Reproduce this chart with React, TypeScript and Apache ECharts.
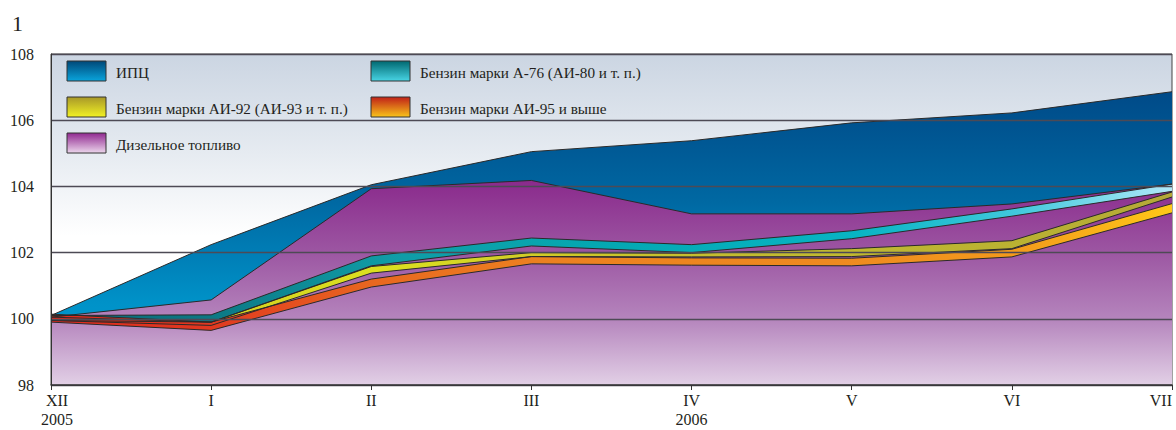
import React, { useEffect, useRef } from "react";
import * as echarts from "echarts";

const months = ["XII", "I", "II", "III", "IV", "V", "VI", "VII"];
const years = ["2005", "", "", "", "2006", "", "", ""];
const yMin = 98;
const yMax = 108;
const yStep = 2;

const cpi = [100.1, 102.24, 104.05, 105.05, 105.38, 105.92, 106.22, 106.86];
const diesel = [100.05, 100.57, 103.93, 104.18, 103.17, 103.17, 103.47, 104.07];
const a76Top = [100.1, 100.12, 101.9, 102.44, 102.24, 102.66, 103.32, 104.07];
const a76Bottom = [99.95, 99.9, 101.6, 102.2, 102.0, 102.42, 103.1, 103.85];
const ai92Top = [100.05, 99.9, 101.58, 102.0, 101.98, 102.12, 102.36, 103.83];
const ai92Bottom = [99.95, 99.8, 101.38, 101.88, 101.87, 101.88, 102.12, 103.68];
const ai95Top = [100.14, 99.9, 101.2, 101.88, 101.84, 101.83, 102.1, 103.48];
const ai95Bottom = [99.9, 99.65, 100.96, 101.66, 101.62, 101.6, 101.87, 103.2];

const legendNames = [
  "ИПЦ",
  "Бензин марки А-76 (АИ-80 и т. п.)",
  "Бензин марки АИ-92 (АИ-93 и т. п.)",
  "Бензин марки АИ-95 и выше",
  "Дизельное топливо",
];
const chartNumber = "1";

const FONT = "Liberation Serif";
const TXT = "#231f20";
const OUT = "#2a2a2a";

const LG = (x2: number, y2: number, stops: [number, string][]) =>
  new echarts.graphic.LinearGradient(0, 0, x2, y2, stops.map(([offset, color]) => ({ offset, color })));

export default function App() {
  const ref = useRef<HTMLDivElement>(null);
  useEffect(() => {
    if (!ref.current) return;
    const chart = echarts.init(ref.current, undefined, { renderer: "svg", width: 1176, height: 430 });

    const cpiFill = LG(0, 1, [[0, "#004a88"], [0.37, "#0068a2"], [0.72, "#0092c8"], [1, "#00a0d8"]]);
    const dieselFill = LG(0, 1, [[0, "#8a2a8c"], [0.35, "#9c56a2"], [0.68, "#b585bd"], [1, "#e2d0e6"]]);
    const tealFill = LG(1, 0, [[0, "#0a6878"], [0.14, "#0c7884"], [0.3, "#109ca6"], [0.5, "#04a8b2"], [0.72, "#08b4c4"], [0.86, "#40c8dc"], [1, "#b0e8f8"]]);
    const yellowFill = LG(1, 0, [[0, "#c8c020"], [0.29, "#dce020"], [0.43, "#d0cc28"], [0.6, "#c4bc30"], [0.86, "#bab232"], [1, "#b4a838"]]);
    const orangeFill = LG(1, 0, [[0, "#e02a1e"], [0.14, "#e03820"], [0.29, "#e86820"], [0.43, "#ec8020"], [0.7, "#ee8a20"], [0.86, "#f39a1c"], [1, "#ffc818"]]);

    const swatches = [
      LG(0, 1, [[0, "#004878"], [1, "#0aa4dc"]]),
      LG(0, 1, [[0, "#006870"], [1, "#48d4e4"]]),
      LG(0, 1, [[0, "#a89828"], [1, "#f2f224"]]),
      LG(0, 1, [[0, "#c02018"], [1, "#f8c41a"]]),
      LG(0, 1, [[0, "#902890"], [1, "#ecd6ec"]]),
    ];
    const legendPos = [
      [67, 61],
      [371, 61],
      [67, 97],
      [371, 97],
      [67, 133],
    ];

    const graphic: any[] = [
      {
        type: "text",
        left: 12,
        top: 12,
        style: { text: chartNumber, fontFamily: FONT, fontSize: 22, fill: TXT },
      },
    ];
    legendNames.forEach((name, i) => {
      const [x, y] = legendPos[i];
      graphic.push({
        type: "rect",
        z: 20,
        shape: { x, y, width: 39, height: 20 },
        style: { fill: swatches[i], stroke: "#333", lineWidth: 1 },
      });
      graphic.push({
        type: "text",
        z: 20,
        x: x + 49,
        y: y + 11,
        style: { text: name, fontFamily: FONT, fontSize: 15.2, fill: TXT, verticalAlign: "middle" },
      });
    });

    const line = (color = OUT, width = 1) => ({ color, width });
    const band = (key: string, top: number[], bottom: number[], fill: any) => [
      {
        type: "line",
        stack: key,
        data: bottom,
        symbol: "none",
        lineStyle: { opacity: 0, width: 0 },
        silent: true,
      },
      {
        type: "line",
        stack: key,
        data: top.map((t, i) => +(t - bottom[i]).toFixed(3)),
        symbol: "none",
        lineStyle: line(),
        areaStyle: { color: fill, opacity: 1 },
        silent: true,
      },
      {
        type: "line",
        data: bottom,
        symbol: "none",
        lineStyle: line(),
        silent: true,
      },
    ];

    chart.setOption({
      animation: false,
      graphic,
      grid: {
        left: 51,
        right: 4,
        top: 54,
        bottom: 45,
        outerBoundsMode: "none",
        containLabel: false,
        show: true,
        borderColor: "#444",
        borderWidth: 1,
        backgroundColor: LG(0, 1, [[0, "#cbd5e2"], [0.3, "#e6ebf1"], [0.55, "#ffffff"], [1, "#ffffff"]]),
      },
      xAxis: {
        type: "category",
        boundaryGap: false,
        data: months.map((m, i) => (i === 0 ? { value: m, textStyle: { padding: [0, 0, 0, 12] } } : m)),
        z: 5,
        axisLine: { lineStyle: { color: "#333", width: 1.5 } },
        axisTick: { show: true, length: 5, lineStyle: { color: "#333" } },
        axisLabel: {
          fontFamily: FONT,
          fontSize: 16,
          color: TXT,
          margin: 6,
          lineHeight: 19,
          alignMaxLabel: "right",
          formatter: (v: string, i: number) => (years[i] ? `${v}\n${years[i]}` : v),
        },
        splitLine: { show: false },
      },
      yAxis: {
        type: "value",
        min: yMin,
        max: yMax,
        interval: yStep,
        z: 5,
        axisLine: { show: true, lineStyle: { color: "#333", width: 1 } },
        axisTick: { show: false },
        axisLabel: { fontFamily: FONT, fontSize: 16, color: TXT, margin: 17 },
        splitLine: { show: true, lineStyle: { color: "#4d4a55", width: 1.3 } },
      },
      series: [
        {
          type: "line",
          data: cpi,
          symbol: "none",
          lineStyle: line(),
          areaStyle: { color: cpiFill, opacity: 1, origin: "start" },
          silent: true,
        },
        {
          type: "line",
          data: diesel,
          symbol: "none",
          lineStyle: line(),
          areaStyle: { color: dieselFill, opacity: 1, origin: "start" },
          silent: true,
        },
        ...band("a76", a76Top, a76Bottom, tealFill),
        ...band("ai92", ai92Top, ai92Bottom, yellowFill),
        ...band("ai95", ai95Top, ai95Bottom, orangeFill),
      ],
    });
    return () => chart.dispose();
  }, []);
  return (
    <div
      ref={ref}
      style={{ position: "absolute", left: 0, top: 0, width: 1176, height: 430, background: "#fff" }}
    />
  );
}
